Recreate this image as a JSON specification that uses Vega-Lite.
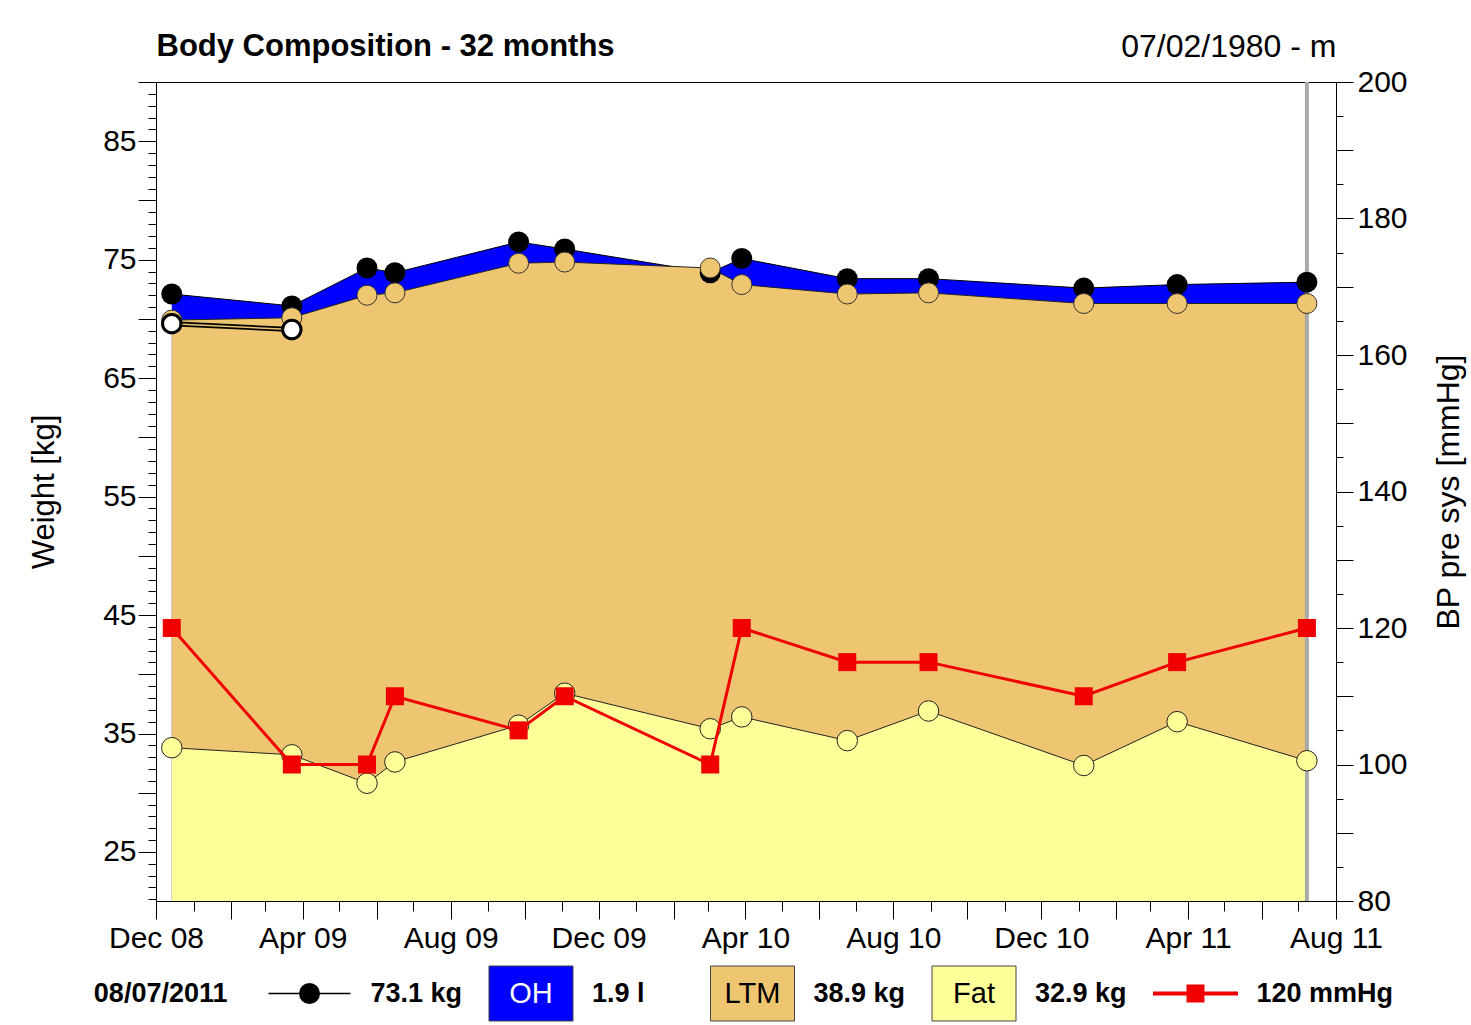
{
  "$schema": "https://vega.github.io/schema/vega-lite/v6.json",
  "background": "white",
  "padding": {"left": 28, "top": 29, "right": 5, "bottom": 2},
  "config": {
    "font": "Liberation Sans",
    "view": {"stroke": "black", "strokeWidth": 1},
    "axis": {"grid": false, "domainColor": "black", "tickColor": "black", "labelColor": "black", "titleColor": "black", "labelFont": "Liberation Sans", "titleFont": "Liberation Sans", "labelFontSize": 30, "titleFontSize": 31, "titleFontWeight": "normal", "domainWidth": 1, "tickWidth": 1, "labelOverlap": false}
  },
  "datasets": {
    "bc": [
      {"date": "2008-12-14", "weight": 72.1, "dry": 69.9, "fat": 33.8, "bp": 120, "nh": 69.6},
      {"date": "2009-03-23", "weight": 71.1, "dry": 70.1, "fat": 33.2, "bp": 100, "nh": 69.1},
      {"date": "2009-05-24", "weight": 74.3, "dry": 72.0, "fat": 30.8, "bp": 100},
      {"date": "2009-06-16", "weight": 73.9, "dry": 72.2, "fat": 32.6, "bp": 110},
      {"date": "2009-09-26", "weight": 76.5, "dry": 74.7, "fat": 35.7, "bp": 105},
      {"date": "2009-11-03", "weight": 75.9, "dry": 74.8, "fat": 38.4, "bp": 110},
      {"date": "2010-03-03", "weight": 73.9, "dry": 74.3, "fat": 35.4, "bp": 100},
      {"date": "2010-03-29", "weight": 75.1, "dry": 72.9, "fat": 36.4, "bp": 120},
      {"date": "2010-06-24", "weight": 73.4, "dry": 72.1, "fat": 34.4, "bp": 115},
      {"date": "2010-08-30", "weight": 73.4, "dry": 72.2, "fat": 36.9, "bp": 115},
      {"date": "2011-01-05", "weight": 72.6, "dry": 71.3, "fat": 32.3, "bp": 110},
      {"date": "2011-03-23", "weight": 72.9, "dry": 71.3, "fat": 36.0, "bp": 115},
      {"date": "2011-07-08", "weight": 73.1, "dry": 71.3, "fat": 32.7, "bp": 120}
    ],
    "leg": [
      {"slot": "w", "box": "", "value": "73.1 kg", "date": "08/07/2011"},
      {"slot": "OH", "box": "OH", "value": "1.9 l"},
      {"slot": "LTM", "box": "LTM", "value": "38.9 kg"},
      {"slot": "Fat", "box": "Fat", "value": "32.9 kg"},
      {"slot": "BP", "box": "", "value": "120 mmHg"}
    ]
  },
  "bounds": "flush",
  "spacing": 65,
  "vconcat": [
    {
      "width": 1180,
      "height": 819,
      "data": {"name": "bc"},
      "resolve": {"scale": {"y": "independent"}, "axis": {"x": "independent", "y": "independent"}},
      "layer": [
        {
          "encoding": {
            "x": {"field": "date", "type": "temporal", "scale": {"domain": [{"year": 2008, "month": 12, "date": 1}, {"year": 2011, "month": 8, "date": 1}]},
              "axis": {"orient": "bottom", "title": null, "tickCount": {"interval": "month", "step": 1}, "labelExpr": "month(datum.value) % 4 == 3 ? timeFormat(datum.value, '%b %y') : ''", "tickSize": {"condition": {"test": "month(datum.value) % 2 == 1", "value": 18}, "value": 10}, "labelPadding": 4, "labelFlush": false}},
            "y": {"field": "weight", "type": "quantitative", "scale": {"domain": [20.86, 90], "nice": false, "zero": false},
              "axis": {"orient": "left", "title": "Weight [kg]", "values": [21,22,23,24,25,26,27,28,29,30,31,32,33,34,35,36,37,38,39,40,41,42,43,44,45,46,47,48,49,50,51,52,53,54,55,56,57,58,59,60,61,62,63,64,65,66,67,68,69,70,71,72,73,74,75,76,77,78,79,80,81,82,83,84,85,86,87,88,89,90], "labelExpr": "datum.value % 10 == 5 ? datum.label : ''", "tickSize": {"condition": {"test": "datum.value % 5 == 0", "value": 18}, "value": 8}, "labelPadding": 2, "titlePadding": 42}},
            "y2": {"datum": 20.86}
          },
          "layer": [
            {"mark": {"type": "area", "color": "#0000FF", "opacity": 1, "line": {"color": "black", "strokeWidth": 1}}},
            {"mark": {"type": "area", "color": "#EEC570", "opacity": 1, "line": {"color": "#222222", "strokeWidth": 1}}, "encoding": {"y": {"field": "dry", "type": "quantitative"}}},
            {"mark": {"type": "area", "color": "#FFFF99", "opacity": 1, "line": {"color": "#222222", "strokeWidth": 1}}, "encoding": {"y": {"field": "fat", "type": "quantitative"}}}
          ]
        },
        {
          "mark": {"type": "rule", "color": "#AAAAAA", "strokeWidth": 4},
          "encoding": {
            "x": {"aggregate": "max", "field": "date", "type": "temporal", "scale": {"domain": [{"year": 2008, "month": 12, "date": 1}, {"year": 2011, "month": 8, "date": 1}]},
              "axis": {"orient": "top", "title": "07/02/1980 - m", "titleAnchor": "end", "labels": false, "ticks": false, "domain": false, "titleFontSize": 32, "titleFontWeight": "normal", "titlePadding": 19}}
          }
        },
        {
          "encoding": {
            "x": {"field": "date", "type": "temporal", "scale": {"domain": [{"year": 2008, "month": 12, "date": 1}, {"year": 2011, "month": 8, "date": 1}]}, "axis": null}
          },
          "layer": [
            {
              "mark": {"type": "line", "color": "black", "strokeWidth": 5},
              "encoding": {"y": {"field": "nh", "type": "quantitative", "scale": {"domain": [20.86, 90], "nice": false, "zero": false}, "axis": null}}
            },
            {
              "mark": {"type": "line", "color": "#EEC570", "strokeWidth": 1.5},
              "encoding": {"y": {"field": "nh", "type": "quantitative", "scale": {"domain": [20.86, 90], "nice": false, "zero": false}, "axis": null}}
            },
            {
              "mark": {"type": "point", "shape": "circle", "filled": true, "color": "black", "size": 441, "opacity": 1},
              "encoding": {"y": {"field": "weight", "type": "quantitative", "scale": {"domain": [20.86, 90], "nice": false, "zero": false}, "axis": null}}
            },
            {
              "mark": {"type": "point", "shape": "circle", "filled": true, "fill": "#EEC570", "stroke": "#333333", "strokeWidth": 1, "size": 400, "opacity": 1},
              "encoding": {"y": {"field": "dry", "type": "quantitative", "scale": {"domain": [20.86, 90], "nice": false, "zero": false}, "axis": null}}
            },
            {
              "mark": {"type": "point", "shape": "circle", "filled": true, "fill": "white", "stroke": "black", "strokeWidth": 3, "size": 340, "opacity": 1},
              "encoding": {"y": {"field": "nh", "type": "quantitative", "scale": {"domain": [20.86, 90], "nice": false, "zero": false}, "axis": null}}
            },
            {
              "mark": {"type": "point", "shape": "circle", "filled": true, "fill": "#FFFF99", "stroke": "#222222", "strokeWidth": 1, "size": 420, "opacity": 1},
              "encoding": {"y": {"field": "fat", "type": "quantitative", "scale": {"domain": [20.86, 90], "nice": false, "zero": false}, "axis": null}}
            }
          ]
        },
        {
          "encoding": {
            "x": {"field": "date", "type": "temporal", "scale": {"domain": [{"year": 2008, "month": 12, "date": 1}, {"year": 2011, "month": 8, "date": 1}]},
              "axis": {"orient": "top", "title": "Body Composition - 32 months", "titleAnchor": "start", "labels": false, "ticks": false, "domain": false, "titleFontSize": 31, "titleFontWeight": "bold", "titlePadding": 20}},
            "y": {"field": "bp", "type": "quantitative", "scale": {"domain": [80, 200], "nice": false, "zero": false},
              "axis": {"orient": "right", "title": "BP pre sys [mmHg]", "titleAngle": 270, "titleBaseline": "top", "values": [80,85,90,95,100,105,110,115,120,125,130,135,140,145,150,155,160,165,170,175,180,185,190,195,200], "labelExpr": "datum.value % 20 == 0 ? datum.label : ''", "tickSize": {"condition": {"test": "datum.value % 10 == 0", "value": 17}, "value": 7}, "labelPadding": 4, "titlePadding": 26, "titleFontSize": 32}}
          },
          "layer": [
            {"mark": {"type": "line", "color": "#F00000", "strokeWidth": 3}},
            {"mark": {"type": "point", "shape": "square", "filled": true, "color": "#F00000", "size": 324, "opacity": 1}}
          ]
        }
      ]
    },
    {
      "width": 1193,
      "height": 55,
      "view": {"stroke": null},
      "data": {"name": "leg"},
      "encoding": {
        "x": {"field": "slot", "type": "nominal", "scale": {"type": "point", "domain": ["w", "OH", "LTM", "Fat", "BP"], "padding": 0.693}, "axis": null}
      },
      "layer": [
        {
          "transform": [{"filter": "datum.box != ''"}],
          "mark": {"type": "point", "shape": "M-1,-0.655H1V0.655H-1Z", "size": 7056, "filled": true, "stroke": "#444444", "strokeWidth": 1, "opacity": 1},
          "encoding": {"fill": {"field": "slot", "type": "nominal", "scale": {"domain": ["OH", "LTM", "Fat"], "range": ["#0000FF", "#EEC570", "#FFFF99"]}, "legend": null}}
        },
        {
          "transform": [{"filter": "datum.slot == 'w'"}],
          "mark": {"type": "point", "shape": "M-1,0H1", "size": 6724, "filled": false, "stroke": "black", "strokeWidth": 1.5, "opacity": 1}
        },
        {
          "transform": [{"filter": "datum.slot == 'w'"}],
          "mark": {"type": "point", "shape": "circle", "size": 441, "filled": true, "color": "black", "opacity": 1}
        },
        {
          "transform": [{"filter": "datum.slot == 'BP'"}],
          "mark": {"type": "point", "shape": "M-1,0H1", "size": 7225, "filled": false, "stroke": "#F00000", "strokeWidth": 4, "opacity": 1}
        },
        {
          "transform": [{"filter": "datum.slot == 'BP'"}],
          "mark": {"type": "point", "shape": "square", "size": 324, "filled": true, "color": "#F00000", "opacity": 1}
        },
        {
          "transform": [{"filter": "datum.box != ''"}],
          "mark": {"type": "text", "fontSize": 29, "baseline": "middle", "align": "center"},
          "encoding": {
            "text": {"field": "box"},
            "color": {"condition": {"test": "datum.slot == 'OH'", "value": "white"}, "value": "black"}
          }
        },
        {
          "mark": {"type": "text", "fontSize": 27, "fontWeight": "bold", "baseline": "middle", "align": "left", "dx": 61, "color": "black"},
          "encoding": {"text": {"field": "value"}}
        },
        {
          "transform": [{"filter": "datum.slot == 'w'"}],
          "mark": {"type": "text", "fontSize": 27, "fontWeight": "bold", "baseline": "middle", "align": "right", "dx": -82, "color": "black"},
          "encoding": {"text": {"field": "date"}}
        }
      ]
    }
  ]
}
